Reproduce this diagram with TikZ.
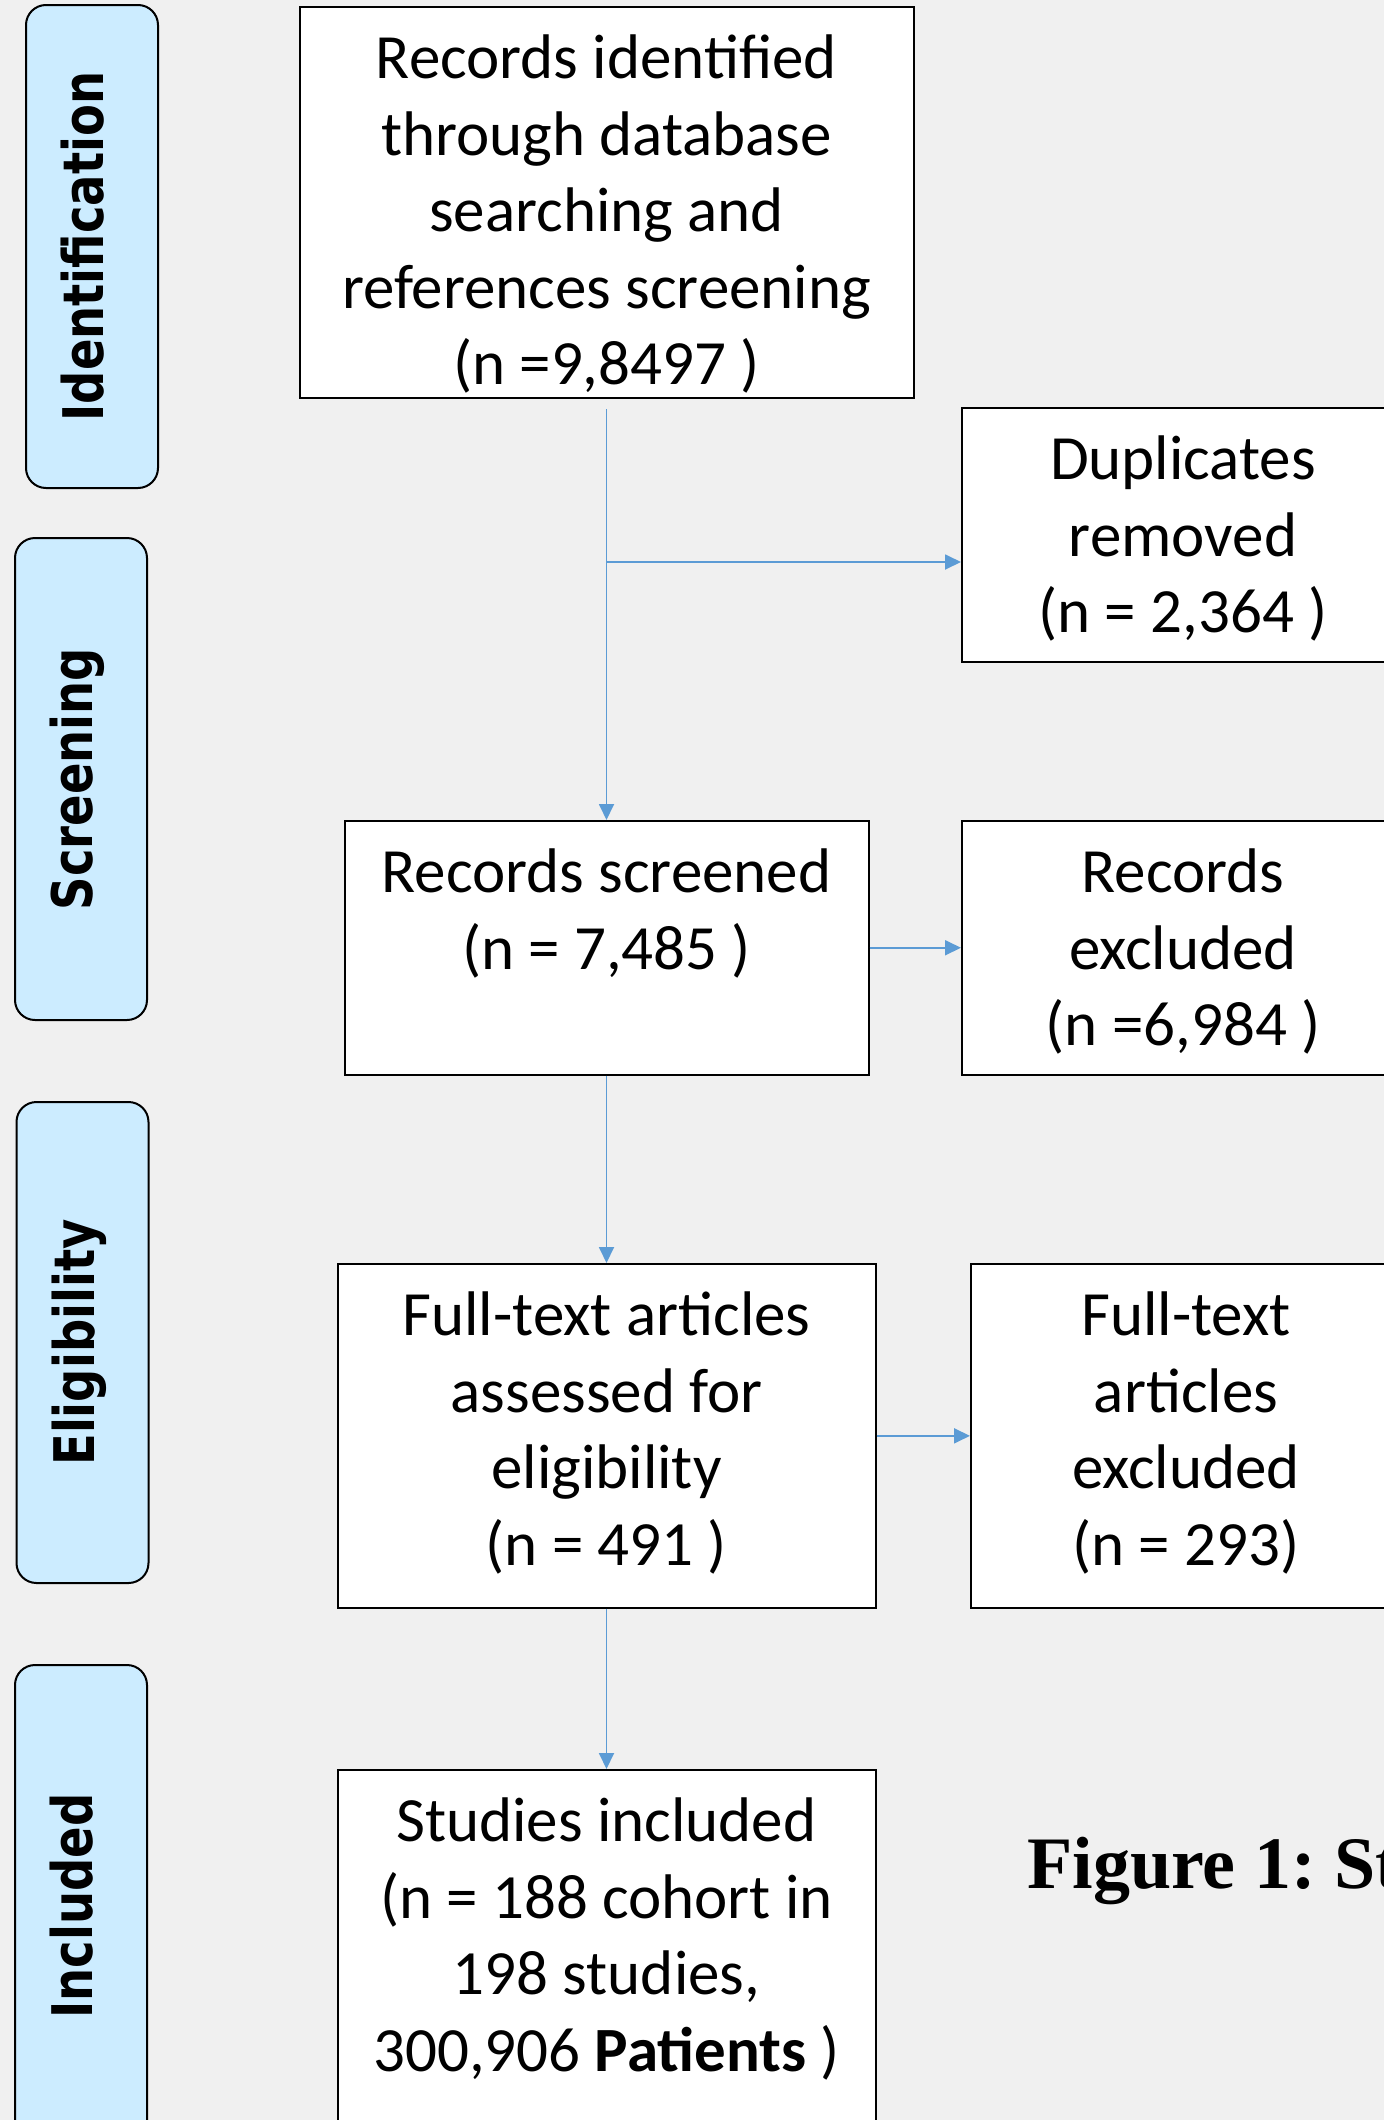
\documentclass[tikz,border=0pt]{standalone}
\usepackage{fontspec}
\setmainfont{Carlito}
\newfontfamily\stagefont[FakeStretch=0.83]{DejaVu Sans}
\newfontfamily\capfont{Liberation Serif}
\usetikzlibrary{arrows.meta,positioning}
\definecolor{PageGray}{HTML}{F0F0F0}
\definecolor{StageBlue}{HTML}{CCECFF}
\definecolor{FlowBlue}{HTML}{5B9BD5}
\newcommand{\boxlines}[1]{\begin{tabular}[t]{@{}c@{}}#1\end{tabular}}
\tikzset{
  box/.style={draw=black,fill=white,line width=1pt,anchor=north,inner sep=0pt,
              text height=35.75pt,font=\fontsize{31.5}{38.25}\selectfont},
  stagebox/.style={draw=black,fill=StageBlue,rounded corners=10pt,line width=1pt,rotate=90,
              minimum height=66pt,text height=20.5pt,text depth=9pt,inner sep=0pt,
              font=\stagefont\bfseries\fontsize{28}{34}\selectfont},
  flow/.style={-{Triangle[length=8pt,width=7.5pt]},line width=0.9pt,draw=FlowBlue},
  figcap/.style={anchor=base west,inner sep=0pt,
              font=\capfont\bfseries\frenchspacing\fontsize{37}{44}\selectfont}
}
\begin{document}
\begin{tikzpicture}[x=0.5pt,y=-0.5pt]
  \useasboundingbox (0,0) rectangle (1384,2120);
  \clip (0,0) rectangle (1384,2120);
  \fill[PageGray] (0,0) rectangle (1384,2120);

  % stage labels on the left
  \node[stagebox,minimum width=241.5pt] (ident) at (92,246.5) {Identification};
  \node[stagebox,minimum width=241pt] (screen) at (81,779) {Screening};
  \node[stagebox,minimum width=240.5pt] (elig) at (82.5,1342.5) {Eligibility};
  \node[stagebox,minimum width=241pt] (incl) at (81,1906) {Included};

  % flow boxes, text hangs from the top edge
  \node[box,minimum width=307pt,text depth=159.75pt] (found) at (606.5,6)
    {\boxlines{Records identified\\through database\\searching and\\references screening\\(n =9,8497 )}};
  \node[box,minimum width=221pt,text depth=91.25pt] (dupes) at (1183,407)
    {\boxlines{Duplicates\\removed\\(n = 2,364 )}};
  \node[box,minimum width=262pt,text depth=91pt] (screened) at (606.5,820)
    {\boxlines{Records screened\\(n = 7,485 )}};
  \node[box,minimum width=221pt,text depth=91pt] (dropped) at (1183,820)
    {\boxlines{Records\\excluded\\(n =6,984 )}};
  \node[box,minimum width=269pt,text depth=136.1pt] (fulltext) at (606.5,1263)
    {\boxlines{Full-text articles\\assessed for\\eligibility\\(n = 491 )}};
  \node[box,minimum width=215pt,text depth=136.1pt] (ftdropped) at (1186,1263)
    {\boxlines{Full-text\\articles\\excluded\\(n = 293)}};
  \node[box,minimum width=269pt,text depth=174.25pt] (studies) at (606.5,1769)
    {\boxlines{Studies included\\(n = 188 cohort in\\198 studies,\\300,906 \textbf{Patients} )}};

  \node[figcap] (figcap) at (1027,1888) {Figure 1: St};

  % connectors
  \coordinate (split) at (606.5,562);
  \draw[flow] ([yshift=-5pt]found.south) -- (screened.north);
  \draw[flow] (split) -- (split -| dupes.west);
  \draw[flow] (screened.east) -- (dropped.west);
  \draw[flow] (screened.south) -- (fulltext.north);
  \draw[flow] (fulltext.east) -- (ftdropped.west);
  \draw[flow] (fulltext.south) -- (studies.north);
\end{tikzpicture}
\end{document}
